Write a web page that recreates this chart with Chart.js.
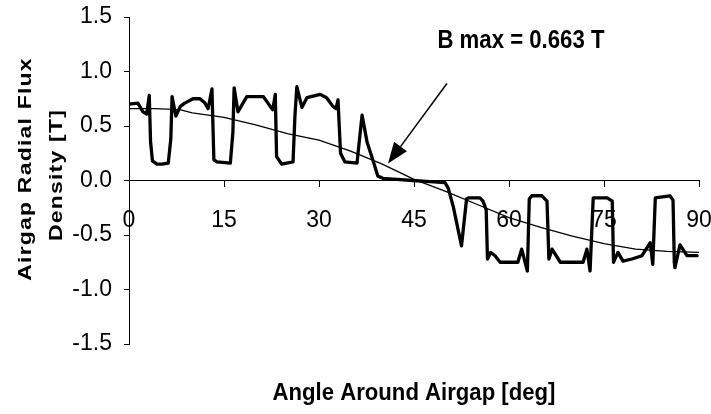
<!DOCTYPE html>
<html>
<head>
<meta charset="utf-8">
<script src="https://cdn.jsdelivr.net/npm/chart.js@4"></script>
<style>
  body { margin: 0; background: #fff; }
</style>
</head>
<body>
<canvas id="myChart" width="711" height="414"></canvas>
<script>
// airgap flux density, FE result (thick) and fundamental (thin)
var feAngle = [0, 1.4, 2.2, 2.8, 3.2, 3.4, 3.7, 4.4, 5.2, 6.2, 6.6, 6.8, 7.4, 8.1, 8.8, 10.1, 11.2, 12.0, 12.5, 13.1,
  13.4, 13.9, 16.0, 16.4, 16.6, 17.2, 18.6, 21.2, 22.3, 22.7, 23.1, 23.3, 24.1, 24.9, 25.9, 26.2, 26.5, 27.3, 28.1,
  30.2, 31.2, 32.2, 32.7, 33.0, 33.4, 34.1, 36.0, 36.8, 37.6, 38.6, 39.3, 40.1, 42.3, 44.8, 47.5, 49.9, 50.4, 51.2,
  52.5, 53.3, 53.6, 55.4, 55.9, 56.4, 56.6, 57.1, 57.8, 58.6, 61.4, 62.0, 62.9, 63.2, 63.6, 65.2, 66.0, 66.3, 66.8,
  68.1, 71.7, 72.3, 72.8, 73.3, 75.5, 76.3, 76.5, 77.2, 78.0, 79.4, 81.0, 82.3, 82.7, 83.1, 85.4, 85.9, 86.1, 86.2,
  87.0, 88.1, 89.7];
var feFlux = [0.70, 0.71, 0.63, 0.61, 0.78, 0.36, 0.18, 0.15, 0.15, 0.16, 0.38, 0.77, 0.59, 0.68, 0.71, 0.75, 0.75, 0.71, 0.66, 0.84,
  0.19, 0.17, 0.16, 0.44, 0.85, 0.63, 0.77, 0.77, 0.68, 0.65, 0.79, 0.22, 0.15, 0.16, 0.17, 0.59, 0.86, 0.67, 0.76,
  0.79, 0.76, 0.68, 0.66, 0.74, 0.25, 0.17, 0.16, 0.60, 0.35, 0.17, 0.04, 0.02, 0.01, 0.00, -0.01, -0.02, -0.07, -0.24,
  -0.60, -0.17, -0.16, -0.16, -0.19, -0.27, -0.72, -0.66, -0.69, -0.75, -0.75, -0.63, -0.83, -0.17, -0.14, -0.14, -0.19, -0.72, -0.63,
  -0.75, -0.75, -0.63, -0.83, -0.16, -0.16, -0.19, -0.75, -0.66, -0.74, -0.72, -0.69, -0.57, -0.77, -0.16, -0.14, -0.18, -0.75, -0.80,
  -0.59, -0.69, -0.69];

var fundAngle = [0, 4, 8, 10, 15, 20, 25, 30, 35, 40, 45, 50, 55, 60, 65, 70, 75, 80, 85, 90];
var fundFlux = [0.66, 0.66, 0.65, 0.62, 0.58, 0.51, 0.43, 0.37, 0.27, 0.15, 0.01, -0.10, -0.22, -0.34, -0.43, -0.51, -0.58, -0.63, -0.65, -0.66];

var xTicks = [0, 15, 30, 45, 60, 75, 90];
var yTicks = [-1.5, -1.0, -0.5, 0.0, 0.5, 1.0, 1.5];

var xTitle = 'Angle Around Airgap [deg]';
var yTitle = ['Airgap Radial Flux', 'Density [T]'];
var noteText = 'B max = 0.663 T';
var noteAt = [48.7, 1.22];
var arrowFrom = [50.2, 0.89];
var arrowTo = [40.9, 0.156];

var FONT = '"Liberation Sans", Arial, sans-serif';
var NARROW = '"Liberation Sans Narrow", "Arial Narrow", "Liberation Sans", Arial, sans-serif';

function toPoints(xs, ys) {
  var pts = [];
  for (var i = 0; i < xs.length; i++) {
    pts.push({ x: xs[i], y: ys[i] });
  }
  return pts;
}

// draw text squeezed so it takes a given width
function fitText(ctx, text, x, y, width, align) {
  var w = ctx.measureText(text).width;
  var k = width / w;
  ctx.save();
  ctx.translate(x, y);
  ctx.scale(k, 1);
  ctx.textAlign = align;
  ctx.fillText(text, 0, 0);
  ctx.restore();
}

var extras = {
  id: 'extras',
  afterDraw: function(chart) {
    var ctx = chart.ctx;
    var sx = chart.scales.x, sy = chart.scales.y;
    var area = chart.chartArea;
    ctx.save();
    ctx.fillStyle = '#000';
    ctx.strokeStyle = '#000';
    ctx.textBaseline = 'alphabetic';

    // x title at the bottom
    ctx.font = 'bold 23.5px ' + FONT;
    fitText(ctx, xTitle, (area.left + area.right) / 2, 400, 283, 'center');

    // y title, two lines, spaced out and a bit squat
    var lines = [[30.5, 169], [62, 175]];
    for (var i = 0; i < yTitle.length; i++) {
      ctx.save();
      ctx.font = 'bold 23px ' + FONT;
      ctx.letterSpacing = '1.2px';
      ctx.textAlign = 'center';
      ctx.translate(lines[i][0], lines[i][1]);
      ctx.rotate(-Math.PI / 2);
      ctx.scale(1, 0.82);
      ctx.fillText(yTitle[i], 0, 0);
      ctx.restore();
    }

    // note + arrow
    ctx.font = 'bold 25.5px ' + FONT;
    fitText(ctx, noteText, sx.getPixelForValue(noteAt[0]), sy.getPixelForValue(noteAt[1]), 167, 'left');

    var x1 = sx.getPixelForValue(arrowFrom[0]), y1 = sy.getPixelForValue(arrowFrom[1]);
    var x2 = sx.getPixelForValue(arrowTo[0]), y2 = sy.getPixelForValue(arrowTo[1]);
    var ang = Math.atan2(y2 - y1, x2 - x1);
    var headLen = 21, headW = 8;
    var bx = x2 - headLen * Math.cos(ang), by = y2 - headLen * Math.sin(ang);
    ctx.lineWidth = 1.5;
    ctx.beginPath();
    ctx.moveTo(x1, y1);
    ctx.lineTo(bx, by);
    ctx.stroke();
    ctx.beginPath();
    ctx.moveTo(x2, y2);
    ctx.lineTo(bx + headW * Math.sin(ang), by - headW * Math.cos(ang));
    ctx.lineTo(bx - headW * Math.sin(ang), by + headW * Math.cos(ang));
    ctx.closePath();
    ctx.fill();
    ctx.restore();
  }
};

var ctx = document.getElementById('myChart').getContext('2d');
var myChart = new Chart(ctx, {
  type: 'scatter',
  data: {
    datasets: [{
      label: 'FE',
      data: toPoints(feAngle, feFlux),
      showLine: true,
      borderColor: '#000',
      borderWidth: 3.3,
      borderJoinStyle: 'round',
      borderCapStyle: 'round',
      pointRadius: 0,
      tension: 0
    }, {
      label: 'Fundamental',
      data: toPoints(fundAngle, fundFlux),
      showLine: true,
      borderColor: '#000',
      borderWidth: 1.3,
      pointRadius: 0,
      tension: 0
    }]
  },
  options: {
    responsive: false,
    animation: false,
    layout: { padding: { top: 17, right: 12, bottom: 70, left: 0 } },
    plugins: {
      legend: { display: false },
      tooltip: { enabled: false }
    },
    scales: {
      x: {
        type: 'linear',
        min: 0,
        max: 90,
        position: { y: 0 },
        afterFit: function(scale) {
          scale.height = 0;
          scale.paddingLeft = 0;
          scale.paddingRight = 0;
        },
        afterBuildTicks: function(scale) {
          scale.ticks = xTicks.map(function(v) { return { value: v }; });
        },
        ticks: {
          color: '#000',
          font: { family: NARROW, size: 23 },
          padding: 20,
          maxRotation: 0,
          autoSkip: false
        },
        grid: { drawOnChartArea: false, tickLength: 6, color: '#000' },
        border: { color: '#000', width: 1 }
      },
      y: {
        min: -1.5,
        max: 1.5,
        afterFit: function(scale) {
          scale.width = 129;
          scale.paddingTop = 0;
          scale.paddingBottom = 0;
        },
        afterBuildTicks: function(scale) {
          scale.ticks = yTicks.map(function(v) { return { value: v }; });
        },
        ticks: {
          color: '#000',
          font: { family: NARROW, size: 23 },
          padding: 12,
          callback: function(v) { return v.toFixed(1); }
        },
        grid: { drawOnChartArea: false, tickLength: 5, color: '#000' },
        border: { color: '#000', width: 1 }
      }
    }
  },
  plugins: [extras]
});
</script>
</body>
</html>
